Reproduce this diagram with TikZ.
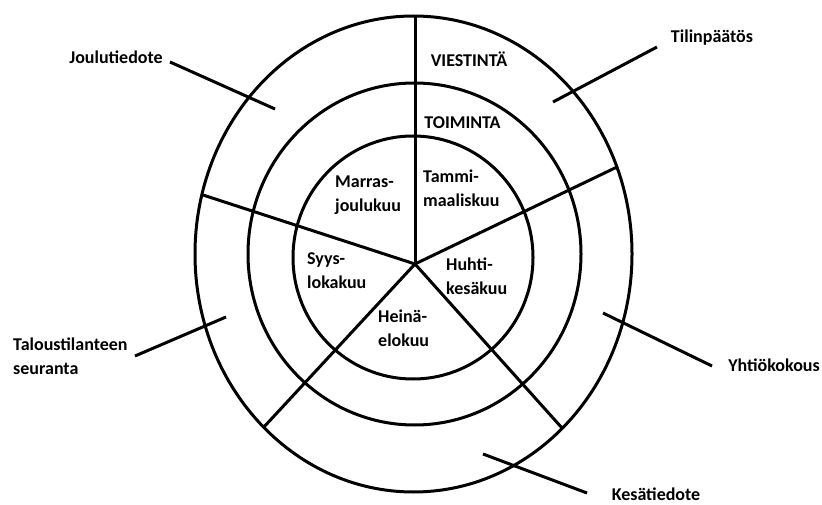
\documentclass[tikz,border=0pt]{standalone}
\usepackage{fontspec}
\setmainfont{Carlito}
\begin{document}
\begin{tikzpicture}[x=1pt,y=-1pt,
  ring/.style={line width=3pt,draw=black},
  spoke/.style={line width=3pt,draw=black},
  callout/.style={line width=3pt,draw=black},
  lbl/.style={font=\bfseries\fontsize{18}{24}\selectfont,inner sep=0pt,text=black},
  month/.style={lbl,align=left,anchor=west}]
\useasboundingbox (0,0) rectangle (822,505);
% rings
\draw[ring] (413.5,254) ellipse [x radius=218.5, y radius=238];
\draw[ring] (414.5,254) ellipse [x radius=166.5, y radius=171];
\draw[ring] (413,257.5) ellipse [x radius=120, y radius=121.5];
% spokes
\coordinate (c) at (415,264);
\coordinate (sU) at (415,16);
\coordinate (sUR) at (617,167);
\coordinate (sUL) at (203,195);
\coordinate (sLL) at (263,428);
\coordinate (sLR) at (562,428);
\draw[spoke] (c) -- (sU);
\draw[spoke] (c) -- (sUR);
\draw[spoke] (c) -- (sUL);
\draw[spoke] (c) -- (sLL);
\draw[spoke] (c) -- (sLR);
% ring labels
\node[lbl] (viest) at (469,59) {VIESTINTÄ};
\node[lbl] (toim) at (462.5,123) {TOIMINTA};
% months
\node[month] (m1) at (423,188.5) {Tammi-\\maaliskuu};
\node[month] (m2) at (446,276) {Huhti-\\kesäkuu};
\node[month] (m3) at (378,328.5) {Heinä-\\elokuu};
\node[month] (m4) at (307,270.5) {Syys-\\lokakuu};
\node[month] (m5) at (335,195) {Marras-\\joulukuu};
% outer labels
\node[lbl] (joulu) at (116,57) {Joulutiedote};
\node[lbl] (tilin) at (712,38) {Tilinpäätös};
\node[lbl,align=left,anchor=west] (talous) at (13,356) {Taloustilanteen\\seuranta};
\node[lbl] (yhtio) at (774,365) {Yhtiökokous};
\node[lbl] (kesa) at (656,494) {Kesätiedote};
% callout lines
\coordinate (j1) at (170,62); \coordinate (j2) at (275,109);
\coordinate (t1) at (657,47); \coordinate (t2) at (553,102);
\coordinate (s1) at (135,356); \coordinate (s2) at (226,317);
\coordinate (y1) at (603,313); \coordinate (y2) at (712,366);
\coordinate (k1) at (483,454); \coordinate (k2) at (587,493);
\draw[callout] (j1) -- (j2);
\draw[callout] (t1) -- (t2);
\draw[callout] (s1) -- (s2);
\draw[callout] (y1) -- (y2);
\draw[callout] (k1) -- (k2);
\end{tikzpicture}
\end{document}
